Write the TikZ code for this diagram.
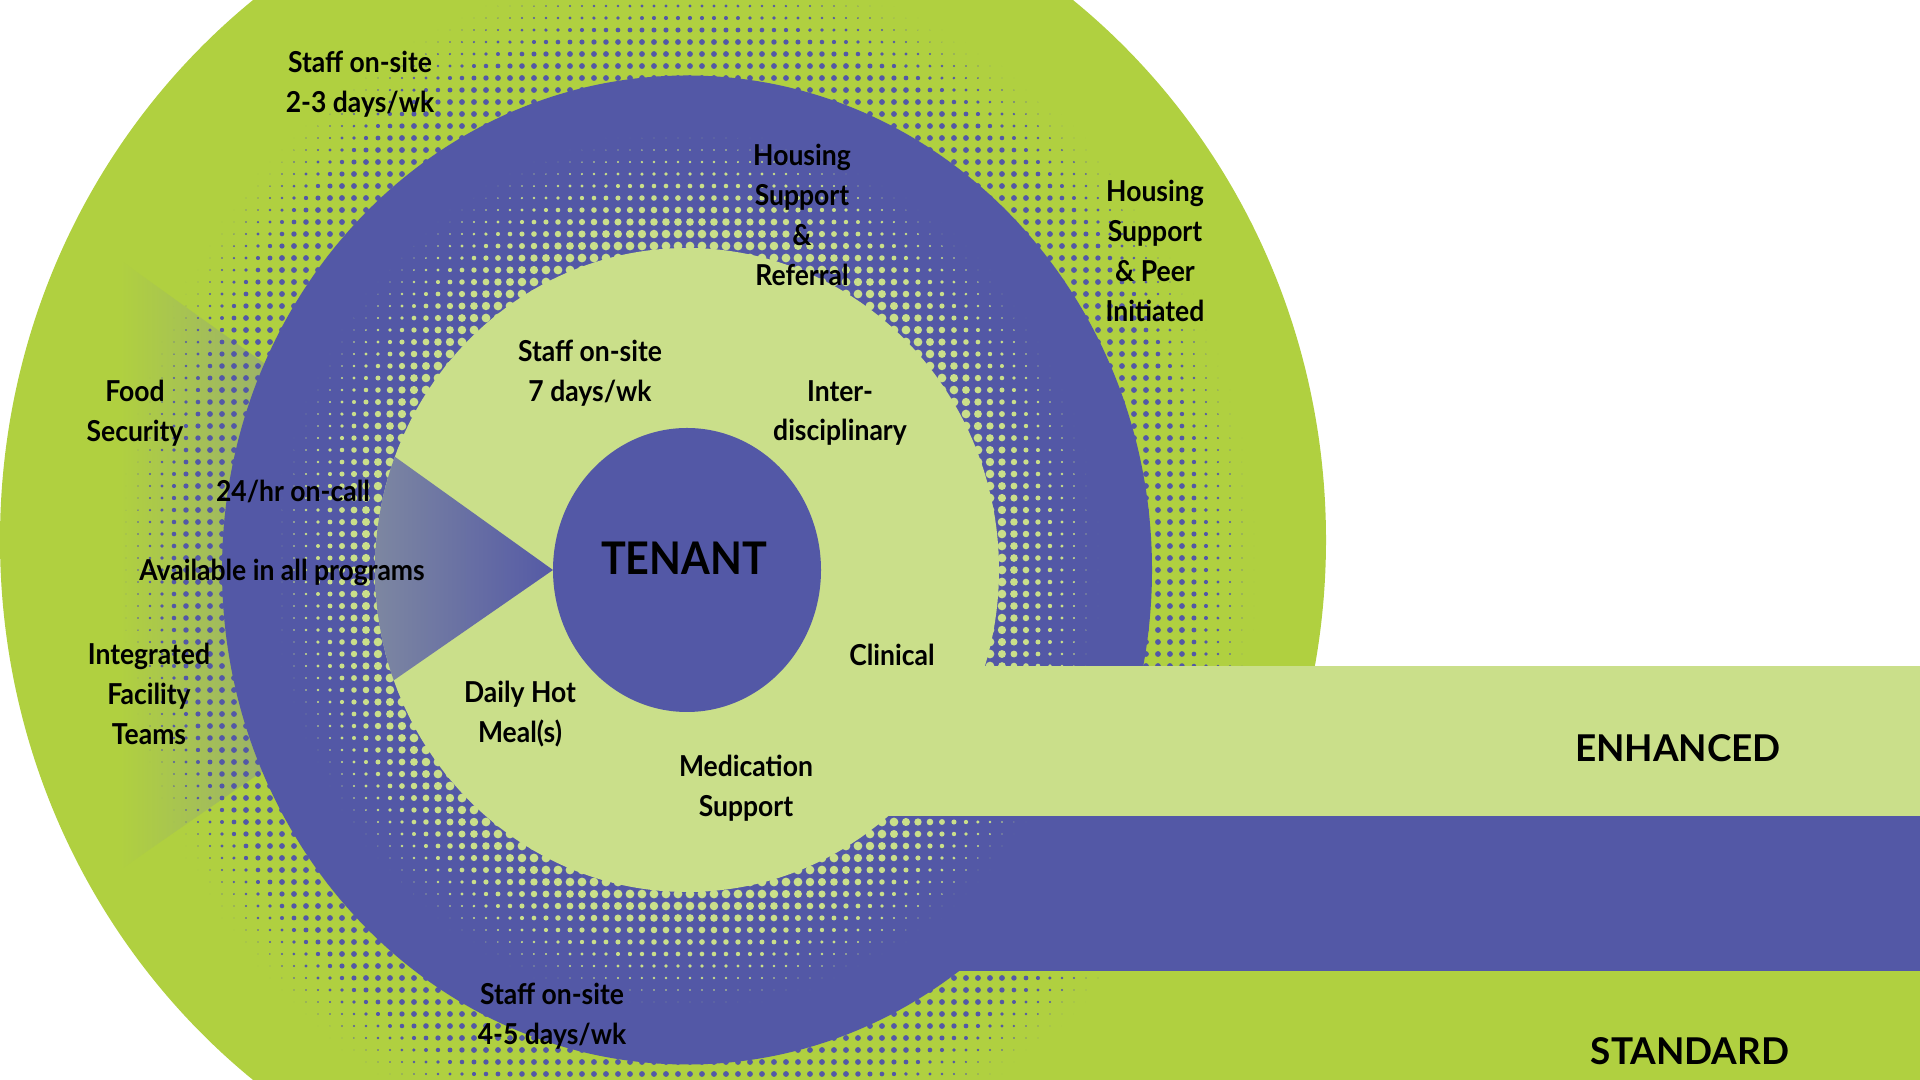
\documentclass[tikz,border=0pt]{standalone}
\usepackage{fontspec}
\setmainfont{Lato}
\newfontfamily\narrowlato{Lato}[FakeStretch=0.92]
\usepackage{tikz}

\definecolor{outergreen}{HTML}{B0D040}
\definecolor{palegreen}{HTML}{CADF8A}
\definecolor{ringpurple}{HTML}{5358A6}
\definecolor{wedgegray}{HTML}{7E88A1}

\begin{document}
\begin{tikzpicture}[x=1cm,y=1cm,
  lbl/.style={font=\narrowlato\bfseries\fontsize{8.2}{11.3}\selectfont,align=center,inner sep=0pt},
  tier/.style={font=\bfseries\fontsize{10.5}{12}\selectfont,inner sep=0pt}]
  \useasboundingbox (0,0) rectangle (19.2,10.8);
  \clip (0,0) rectangle (19.2,10.8);

  % standard
  \fill[outergreen] (6.63,5.40) ellipse [x radius=6.63,y radius=6.87];
  \fill[outergreen] (6.87,0) rectangle (19.2,4.14);
  \begin{scope}
    \clip (5.53,5.10) -- (1.2,8.2) -- (1.2,2.1) -- cycle;
    \shade[left color=outergreen,right color=outergreen!60!wedgegray] (1.2,1) rectangle (2.6,9.5);
    \fill[outergreen!60!wedgegray] (2.59,1) rectangle (5.6,9.5);
  \end{scope}
  \foreach \i in {9,...,104}{
    \foreach \j in {0,...,89}{
      \pgfmathsetmacro{\rr}{veclen(0.06+0.12*\i-6.87,(0.06+0.12*\j-5.10)/1.063)}
      \ifdim\rr pt>4.5pt \ifdim\rr pt<5.7pt
        \pgfmathsetmacro{\dr}{0.029*min(1,(5.7-\rr)/0.7)}
        \fill[ringpurple] (0.06+0.12*\i,0.06+0.12*\j) circle[radius=\dr];
      \fi\fi
    }
  }

  % enhanced
  \fill[ringpurple] (6.87,5.10) ellipse [x radius=4.65,y radius=4.945];
  \fill[ringpurple] (6.87,1.09) rectangle (19.2,4.14);
  \foreach \i in {22,...,92}{
    \foreach \j in {5,...,80}{
      \pgfmathsetmacro{\rr}{veclen(0.06+0.12*\i-6.87,(0.06+0.12*\j-5.10)/1.063)}
      \ifdim\rr pt>3.0pt \ifdim\rr pt<4.15pt
        \pgfmathsetmacro{\dr}{0.044*min(1,(4.15-\rr)/1.0)}
        \fill[palegreen] (0.06+0.12*\i,0.06+0.12*\j) circle[radius=\dr];
      \fi\fi
    }
  }

  % intensive
  \fill[palegreen] (6.87,5.10) ellipse [x radius=3.12,y radius=3.22];
  \fill[palegreen] (6.87,2.64) rectangle (19.2,4.14);
  \begin{scope}
    \clip (6.87,5.10) ellipse [x radius=3.12,y radius=3.22];
    \clip (5.53,5.10) -- (1.2,8.2) -- (1.2,2.1) -- cycle;
    \shade[left color=wedgegray,right color=ringpurple] (3.7,2.5) rectangle (5.6,7.5);
  \end{scope}
  \fill[ringpurple] (6.87,5.10) ellipse [x radius=1.34,y radius=1.42];

  \node[tier] (tenant) at (6.84,5.22) {\narrowlato\fontsize{12.8}{14}\selectfont TENANT};
  \node[lbl] (staff23) at (3.60,9.96) {Staff on-site\\2-3 days/wk};
  \node[lbl] (hsref) at (8.02,8.65) {Housing\\Support\\\&\\Referral};
  \node[lbl] (hspeer) at (11.55,8.29) {Housing\\Support\\\& Peer\\Initiated};
  \node[lbl] (staff7) at (5.90,7.07) {Staff on-site\\7 days/wk};
  \node[lbl] (inter) at (8.40,6.67) {Inter-\\disciplinary};
  \node[lbl] (food) at (1.35,6.67) {Food\\Security};
  \node[lbl] (oncall) at (2.93,5.89) {24/hr on-call};
  \node[lbl] (avail) at (2.82,5.08) {Available in all programs};
  \node[lbl] (ift) at (1.49,3.86) {Integrated\\Facility\\Teams};
  \node[lbl] (clin) at (8.92,4.25) {Clinical};
  \node[lbl] (meal) at (5.20,3.66) {Daily Hot\\Meal(s)};
  \node[lbl] (meds) at (7.46,2.92) {Medication\\Support};
  \node[lbl] (staff45) at (5.52,0.64) {Staff on-site\\4-5 days/wk};
  \node[tier] (enh) at (16.78,3.32) {ENHANCED};
  \node[tier] (std) at (16.90,0.29) {STANDARD};
\end{tikzpicture}
\end{document}
